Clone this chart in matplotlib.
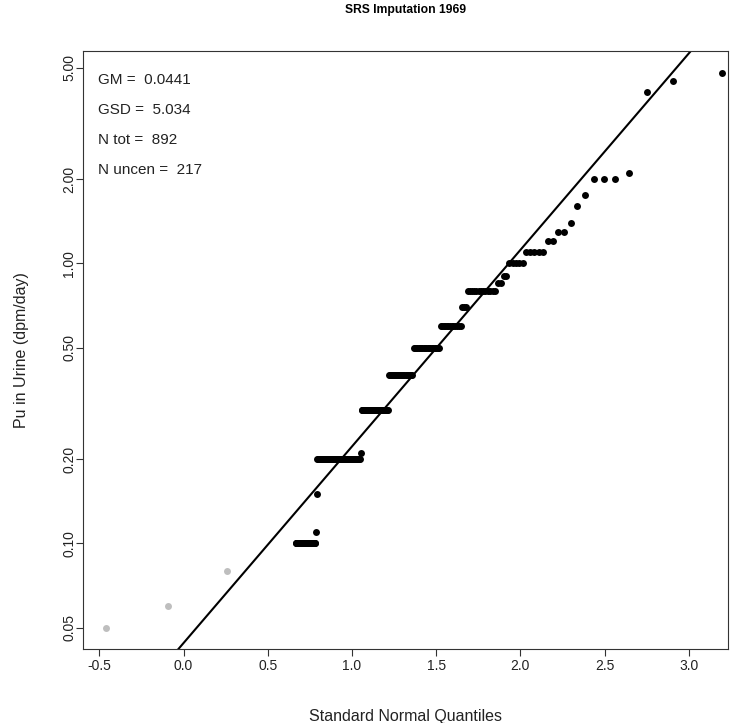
import numpy as np
import matplotlib
matplotlib.use("Agg")
import matplotlib.pyplot as plt
from statistics import NormalDist

plt.rcParams['font.family'] = ['Liberation Sans', 'DejaVu Sans']

# summary stats shown on the chart
gm = 0.0441
gsd = 5.034
n_tot = 892
n_uncen = 217

# detected values (dpm/day) and how many times each occurs, ascending
pu_levels = [0.10, 0.11, 0.15, 0.20, 0.21, 0.30, 0.40, 0.50, 0.60, 0.70, 0.80,
             0.85, 0.90, 1.00, 1.10, 1.20, 1.30, 1.40, 1.60, 1.75, 2.00, 2.10,
             4.10, 4.50, 4.80]
pu_counts = [33, 1, 1, 60, 1, 30, 23, 20, 13, 3, 13,
             2, 2, 5, 5, 2, 2, 1, 1, 1, 3, 1,
             1, 1, 1]

# censored (imputed) values shown in grey and their rank in the full sample
cens_values = [0.05, 0.06, 0.08]
cens_ranks = [289, 414, 538]

y_ticks = [0.05, 0.10, 0.20, 0.50, 1.00, 2.00, 5.00]
x_ticks = [-0.5, 0.0, 0.5, 1.0, 1.5, 2.0, 2.5, 3.0]

nd = NormalDist()


def blom_quantile(rank, n):
    return nd.inv_cdf((rank - 3 / 8) / (n + 1 / 4))


# detected values take the top ranks of the sample
vals = np.repeat(pu_levels, pu_counts)
first_rank = n_tot - len(vals) + 1
ranks = np.arange(first_rank, n_tot + 1)
qx = np.array([blom_quantile(r, n_tot) for r in ranks])
cx = np.array([blom_quantile(r, n_tot) for r in cens_ranks])

fig = plt.figure(figsize=(7.30, 7.23), dpi=100)
ax = fig.add_axes([0.1137, 0.1024, 0.8836, 0.8271])

ax.set_yscale('log')
ax.set_xlim(-0.597, 3.233)
ax.set_ylim(0.0420, 5.74)

# fitted lognormal line
lx = np.array(ax.get_xlim())
ly = gm * gsd ** lx
ax.plot(lx, ly, color='black', lw=1.5, zorder=2)

ax.plot(cx, cens_values, 'o', color='#bebebe', ms=5, mec='none', zorder=3)
ax.plot(qx, vals, 'o', color='black', ms=5, mec='none', zorder=3)

ax.set_xticks(x_ticks)
ax.set_xticklabels([f'{t:.1f}' for t in x_ticks])
ax.set_yticks(y_ticks)
ax.set_yticklabels([f'{t:.2f}' for t in y_ticks], rotation=90, va='center')
ax.yaxis.set_minor_locator(matplotlib.ticker.NullLocator())
ax.tick_params(axis='both', length=5, width=0.8, labelsize=10,
               color='#333333', labelcolor='#222222')
ax.tick_params(axis='x', pad=2.5)
ax.tick_params(axis='y', pad=0)
for s in ax.spines.values():
    s.set_linewidth(0.8)
    s.set_color('#333333')

ax.set_xlabel('Standard Normal Quantiles', fontsize=11.5, color='#222222', labelpad=26)
ax.set_ylabel('Pu in Urine (dpm/day)', fontsize=11.5, color='#222222', labelpad=24)
ax.set_title('SRS Imputation 1969', fontsize=8.7, fontweight='bold', pad=27)

stats = [f'GM =  {gm}', f'GSD =  {gsd}', f'N tot =  {n_tot}', f'N uncen =  {n_uncen}']
for i, s in enumerate(stats):
    ax.text(0.023, 0.9515 - i * 0.0503, s, transform=ax.transAxes,
            fontsize=11, va='center', ha='left', color='#222222')

fig.savefig('out.png', dpi=100)
